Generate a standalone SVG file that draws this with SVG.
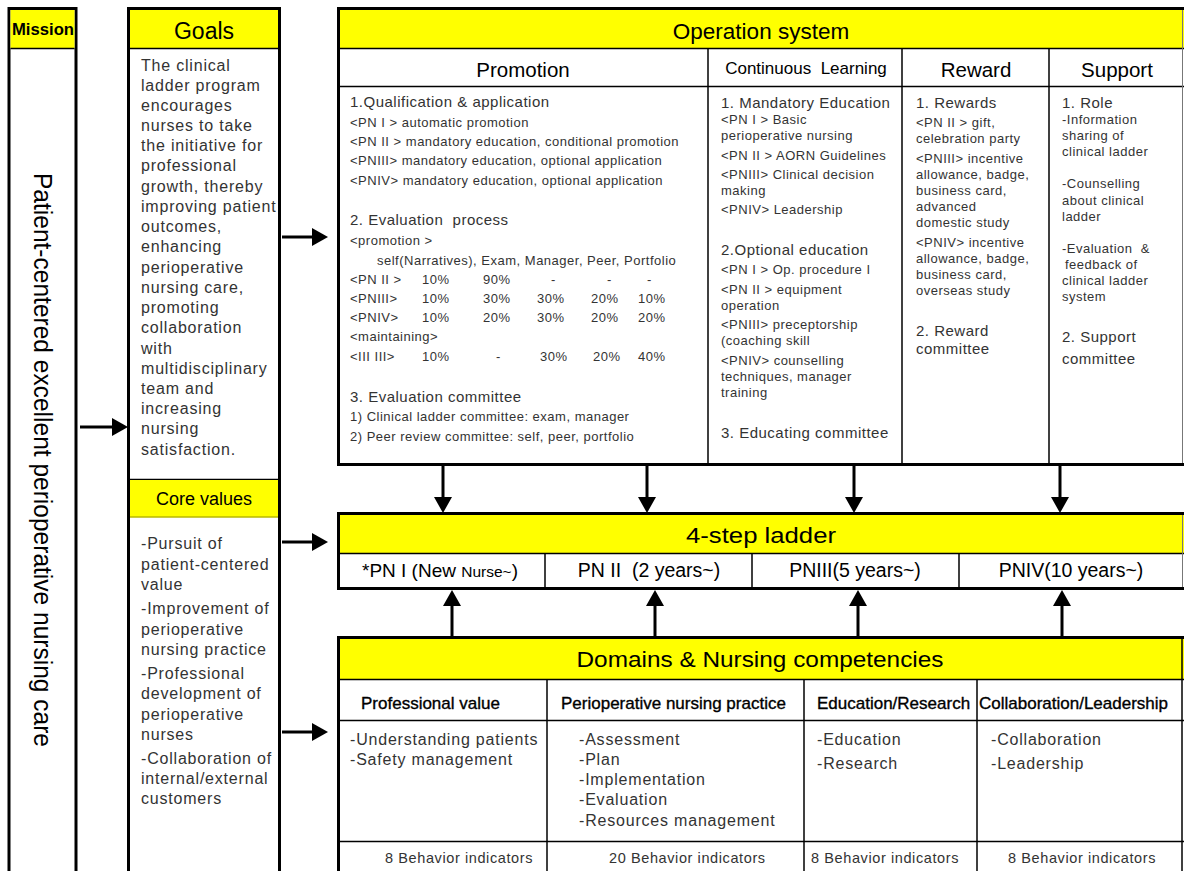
<svg xmlns="http://www.w3.org/2000/svg" width="1184" height="871" viewBox="0 0 1184 871">
<style>
text{font-family:"Liberation Sans",Arial,sans-serif}
.hd{fill:#000;text-anchor:middle}
.b{font-size:16px;fill:#333;letter-spacing:0.8px}
.m{font-size:15px;fill:#333;letter-spacing:0.5px}
.s{font-size:13px;fill:#333;letter-spacing:0.5px}
.sub{font-size:17px;fill:#000;stroke:#000;stroke-width:0.35px}
.bi{font-size:14.5px;fill:#333;letter-spacing:0.6px}
.box{fill:#fff;stroke:#000;stroke-width:3}
.yl{fill:#ffff00}
.tl{stroke:#000;stroke-width:1.5}
.edge{stroke:#777;stroke-width:1}
.arr{stroke:#000;stroke-width:3;fill:none;marker-end:url(#ah)}
</style>
<defs>
<marker id="ah" markerUnits="userSpaceOnUse" markerWidth="16" markerHeight="18" refX="0" refY="9" orient="auto">
<path d="M0,0 L16,9 L0,18 Z" fill="#000"/>
</marker>
</defs>
<rect width="1184" height="871" fill="#fff"/>

<g id="mission">
<rect class="box" x="9" y="8.5" width="67" height="880"/>
<rect class="yl" x="10.5" y="10" width="64" height="38"/>
<line class="tl" x1="10.5" y1="48.5" x2="74.5" y2="48.5"/>
<text x="43" y="35" class="hd" font-size="16.5" font-weight="bold" textLength="62" lengthAdjust="spacingAndGlyphs">Mission</text>
<text transform="translate(34,460) rotate(90)" text-anchor="middle" font-size="25" fill="#000" textLength="574" lengthAdjust="spacingAndGlyphs">Patient-centered excellent perioperative nursing care</text>
</g>

<g id="goals">
<rect class="box" x="128.5" y="8.5" width="151" height="880"/>
<rect class="yl" x="130" y="10" width="148" height="38"/>
<line class="tl" x1="130" y1="48.5" x2="278" y2="48.5"/>
<text x="204" y="39" class="hd" font-size="23">Goals</text>
<text class="b" x="141" y="71">The clinical</text>
<text class="b" x="141" y="91">ladder program</text>
<text class="b" x="141" y="111">encourages</text>
<text class="b" x="141" y="131">nurses to take</text>
<text class="b" x="141" y="151">the initiative for</text>
<text class="b" x="141" y="171">professional</text>
<text class="b" x="141" y="192">growth, thereby</text>
<text class="b" x="141" y="212">improving patient</text>
<text class="b" x="141" y="232">outcomes,</text>
<text class="b" x="141" y="252">enhancing</text>
<text class="b" x="141" y="273">perioperative</text>
<text class="b" x="141" y="293">nursing care,</text>
<text class="b" x="141" y="313">promoting</text>
<text class="b" x="141" y="333">collaboration</text>
<text class="b" x="141" y="354">with</text>
<text class="b" x="141" y="374">multidisciplinary</text>
<text class="b" x="141" y="394">team and</text>
<text class="b" x="141" y="414">increasing</text>
<text class="b" x="141" y="434">nursing</text>
<text class="b" x="141" y="455">satisfaction.</text>
</g>

<g id="core-values">
<line class="tl" x1="130" y1="479.5" x2="278" y2="479.5"/>
<rect class="yl" x="130" y="480" width="148" height="37"/>
<line x1="130" y1="517" x2="278" y2="517" stroke="#b8b800" stroke-width="1.5"/>
<text x="204" y="505" class="hd" font-size="18">Core values</text>
<text class="b" x="141" y="549">-Pursuit of</text>
<text class="b" x="141" y="570">patient-centered</text>
<text class="b" x="141" y="590">value</text>
<text class="b" x="141" y="614">-Improvement of</text>
<text class="b" x="141" y="635">perioperative</text>
<text class="b" x="141" y="655">nursing practice</text>
<text class="b" x="141" y="679">-Professional</text>
<text class="b" x="141" y="699">development of</text>
<text class="b" x="141" y="720">perioperative</text>
<text class="b" x="141" y="740">nurses</text>
<text class="b" x="141" y="764">-Collaboration of</text>
<text class="b" x="141" y="784">internal/external</text>
<text class="b" x="141" y="804">customers</text>
</g>

<g id="operation-system">
<rect class="box" x="338.5" y="8.5" width="852" height="456"/>
<rect class="yl" x="340" y="10" width="850" height="38"/>
<line class="tl" x1="340" y1="48.5" x2="1190" y2="48.5"/>
<line class="tl" x1="340" y1="86.5" x2="1190" y2="86.5"/>
<line class="tl" x1="708" y1="48.5" x2="708" y2="463"/>
<line class="tl" x1="902" y1="48.5" x2="902" y2="463"/>
<line class="tl" x1="1049" y1="48.5" x2="1049" y2="463"/>
<line class="edge" x1="1182.5" y1="10" x2="1182.5" y2="463"/>
<text x="761" y="39" class="hd" font-size="22.5">Operation system</text>
<text x="523" y="77" class="hd" font-size="20.5">Promotion</text>
<text x="806" y="74" class="hd" font-size="17" xml:space="preserve">Continuous  Learning</text>
<text x="976" y="77" class="hd" font-size="20.5">Reward</text>
<text x="1117" y="77" class="hd" font-size="20.5">Support</text>
</g>

<g id="promotion">
<text class="m" x="350" y="107">1.Qualification &amp; application</text>
<text class="s" x="350" y="127">&lt;PN I &gt; automatic promotion</text>
<text class="s" x="350" y="146">&lt;PN II &gt; mandatory education, conditional promotion</text>
<text class="s" x="350" y="165">&lt;PNIII&gt; mandatory education, optional application</text>
<text class="s" x="350" y="185">&lt;PNIV&gt; mandatory education, optional application</text>
<text class="m" x="350" y="225" xml:space="preserve">2. Evaluation  process</text>
<text class="s" x="350" y="245">&lt;promotion &gt;</text>
<text class="s" x="377" y="265">self(Narratives), Exam, Manager, Peer, Portfolio</text>
<text class="s" y="284"><tspan x="350">&lt;PN II &gt;</tspan><tspan x="422">10%</tspan><tspan x="483">90%</tspan><tspan x="551">-</tspan><tspan x="607">-</tspan><tspan x="647">-</tspan></text>
<text class="s" y="303"><tspan x="350">&lt;PNIII&gt;</tspan><tspan x="422">10%</tspan><tspan x="483">30%</tspan><tspan x="537">30%</tspan><tspan x="591">20%</tspan><tspan x="638">10%</tspan></text>
<text class="s" y="322"><tspan x="350">&lt;PNIV&gt;</tspan><tspan x="422">10%</tspan><tspan x="483">20%</tspan><tspan x="537">30%</tspan><tspan x="591">20%</tspan><tspan x="638">20%</tspan></text>
<text class="s" x="350" y="341">&lt;maintaining&gt;</text>
<text class="s" y="361"><tspan x="350">&lt;III III&gt;</tspan><tspan x="422">10%</tspan><tspan x="496">-</tspan><tspan x="540">30%</tspan><tspan x="593">20%</tspan><tspan x="638">40%</tspan></text>
<text class="m" x="350" y="402">3. Evaluation committee</text>
<text class="s" x="350" y="421">1) Clinical ladder committee: exam, manager</text>
<text class="s" x="350" y="441">2) Peer review committee: self, peer, portfolio</text>
</g>

<g id="continuous-learning">
<text class="m" x="721" y="108">1. Mandatory Education</text>
<text class="s" x="721" y="124">&lt;PN I &gt; Basic</text>
<text class="s" x="721" y="140">perioperative nursing</text>
<text class="s" x="721" y="160">&lt;PN II &gt; AORN Guidelines</text>
<text class="s" x="721" y="179">&lt;PNIII&gt; Clinical decision</text>
<text class="s" x="721" y="195">making</text>
<text class="s" x="721" y="214">&lt;PNIV&gt; Leadership</text>
<text class="m" x="721" y="255">2.Optional education</text>
<text class="s" x="721" y="274">&lt;PN I &gt; Op. procedure I</text>
<text class="s" x="721" y="294">&lt;PN II &gt; equipment</text>
<text class="s" x="721" y="310">operation</text>
<text class="s" x="721" y="329">&lt;PNIII&gt; preceptorship</text>
<text class="s" x="721" y="345">(coaching skill</text>
<text class="s" x="721" y="365">&lt;PNIV&gt; counselling</text>
<text class="s" x="721" y="381">techniques, manager</text>
<text class="s" x="721" y="397">training</text>
<text class="m" x="721" y="438">3. Educating committee</text>
</g>

<g id="reward">
<text class="m" x="916" y="108">1. Rewards</text>
<text class="s" x="916" y="127">&lt;PN II &gt; gift,</text>
<text class="s" x="916" y="143">celebration party</text>
<text class="s" x="916" y="163">&lt;PNIII&gt; incentive</text>
<text class="s" x="916" y="179">allowance, badge,</text>
<text class="s" x="916" y="195">business card,</text>
<text class="s" x="916" y="211">advanced</text>
<text class="s" x="916" y="227">domestic study</text>
<text class="s" x="916" y="247">&lt;PNIV&gt; incentive</text>
<text class="s" x="916" y="263">allowance, badge,</text>
<text class="s" x="916" y="279">business card,</text>
<text class="s" x="916" y="295">overseas study</text>
<text class="m" x="916" y="336">2. Reward</text>
<text class="m" x="916" y="354">committee</text>
</g>

<g id="support">
<text class="m" x="1062" y="108">1. Role</text>
<text class="s" x="1062" y="124">-Information</text>
<text class="s" x="1062" y="140">sharing of</text>
<text class="s" x="1062" y="156">clinical ladder</text>
<text class="s" x="1062" y="188">-Counselling</text>
<text class="s" x="1062" y="205">about clinical</text>
<text class="s" x="1062" y="221">ladder</text>
<text class="s" x="1062" y="253" xml:space="preserve">-Evaluation  &amp;</text>
<text class="s" x="1065" y="269">feedback of</text>
<text class="s" x="1062" y="285">clinical ladder</text>
<text class="s" x="1062" y="301">system</text>
<text class="m" x="1062" y="342">2. Support</text>
<text class="m" x="1062" y="364">committee</text>
</g>

<g id="ladder">
<rect class="box" x="338.5" y="513.5" width="852" height="75"/>
<rect class="yl" x="340" y="515" width="850" height="38"/>
<line class="tl" x1="340" y1="553.5" x2="1190" y2="553.5"/>
<line class="tl" x1="545" y1="553.5" x2="545" y2="587"/>
<line class="tl" x1="752" y1="553.5" x2="752" y2="587"/>
<line class="tl" x1="959" y1="553.5" x2="959" y2="587"/>
<line class="edge" x1="1182.5" y1="515" x2="1182.5" y2="587"/>
<text x="761" y="543" class="hd" font-size="22" textLength="150" lengthAdjust="spacingAndGlyphs">4-step ladder</text>
<text x="440" y="577" class="hd" font-size="19">*PN I (New <tspan font-size="15.5">Nurse~</tspan>)</text>
<text x="649" y="577" class="hd" font-size="19.5" xml:space="preserve">PN II  (2 years~)</text>
<text x="855" y="577" class="hd" font-size="19.5">PNIII(5 years~)</text>
<text x="1071" y="577" class="hd" font-size="19.5">PNIV(10 years~)</text>
</g>

<g id="domains">
<rect class="box" x="338.5" y="637.5" width="852" height="260"/>
<rect class="yl" x="340" y="639" width="850" height="40"/>
<line class="tl" x1="340" y1="679.5" x2="1190" y2="679.5"/>
<line class="tl" x1="340" y1="720.5" x2="1190" y2="720.5"/>
<line class="tl" x1="340" y1="841.5" x2="1190" y2="841.5"/>
<line class="tl" x1="547" y1="679.5" x2="547" y2="871"/>
<line class="tl" x1="804" y1="679.5" x2="804" y2="871"/>
<line class="tl" x1="977" y1="679.5" x2="977" y2="871"/>
<line x1="1182" y1="639" x2="1182" y2="871" stroke="#000" stroke-width="1.5"/>
<text x="760" y="667" class="hd" font-size="22" textLength="367" lengthAdjust="spacingAndGlyphs">Domains &amp; Nursing competencies</text>
<text class="sub" x="361" y="709">Professional value</text>
<text class="sub" x="561" y="709">Perioperative nursing practice</text>
<text class="sub" x="817" y="709">Education/Research</text>
<text class="sub" x="979" y="709">Collaboration/Leadership</text>
<text class="b" x="350" y="745">-Understanding patients</text>
<text class="b" x="350" y="765">-Safety management</text>
<text class="b" x="579" y="745">-Assessment</text>
<text class="b" x="579" y="765">-Plan</text>
<text class="b" x="579" y="785">-Implementation</text>
<text class="b" x="579" y="805">-Evaluation</text>
<text class="b" x="579" y="826">-Resources management</text>
<text class="b" x="817" y="745">-Education</text>
<text class="b" x="817" y="769">-Research</text>
<text class="b" x="991" y="745">-Collaboration</text>
<text class="b" x="991" y="769">-Leadership</text>
<text class="bi" x="385" y="863">8 Behavior indicators</text>
<text class="bi" x="609" y="863">20 Behavior indicators</text>
<text class="bi" x="811" y="863">8 Behavior indicators</text>
<text class="bi" x="1008" y="863">8 Behavior indicators</text>
</g>

<g id="connectors">
<line class="arr" x1="80" y1="427" x2="112" y2="427"/>
<line class="arr" x1="282" y1="237" x2="312" y2="237"/>
<line class="arr" x1="282" y1="542" x2="312" y2="542"/>
<line class="arr" x1="282" y1="732" x2="312" y2="732"/>
<line class="arr" x1="443" y1="466" x2="443" y2="497"/>
<line class="arr" x1="647" y1="466" x2="647" y2="497"/>
<line class="arr" x1="854" y1="466" x2="854" y2="497"/>
<line class="arr" x1="1060" y1="466" x2="1060" y2="497"/>
<line class="arr" x1="452" y1="636" x2="452" y2="606"/>
<line class="arr" x1="655" y1="636" x2="655" y2="606"/>
<line class="arr" x1="858" y1="636" x2="858" y2="606"/>
<line class="arr" x1="1062" y1="636" x2="1062" y2="606"/>
</g>
</svg>
